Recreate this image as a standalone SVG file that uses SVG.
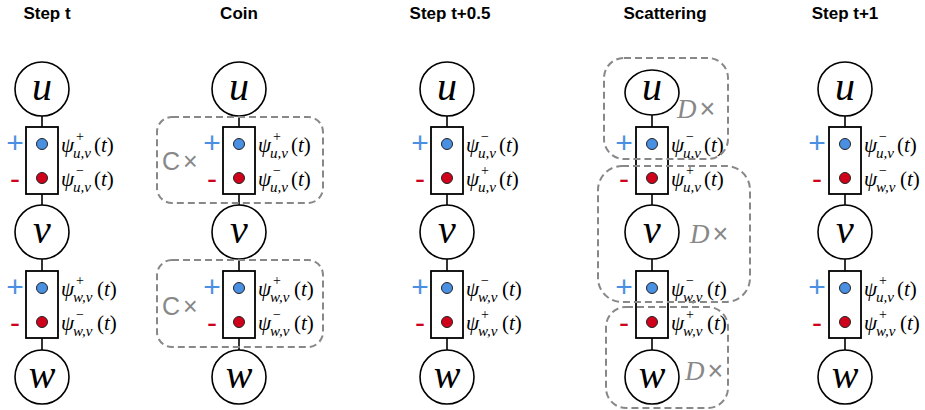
<svg xmlns="http://www.w3.org/2000/svg" width="925" height="410" viewBox="0 0 925 410">
<style>
.title{font-family:"Liberation Sans",Arial,sans-serif;font-weight:bold;font-size:17px;fill:#000;text-anchor:middle}
.node{fill:#fff;stroke:#000;stroke-width:1.6}
.nl{font-family:"Liberation Serif","Times New Roman",serif;font-style:italic;font-size:40px;fill:#000;text-anchor:middle}
.box{fill:#fff;stroke:#000;stroke-width:1.8}
.dp{fill:#4a90e2;stroke:#222;stroke-width:1}
.dm{fill:#d0021b;stroke:#222;stroke-width:1}
.plus{font-family:"Liberation Sans",Arial,sans-serif;font-size:30px;fill:#4a90e2;text-anchor:middle}
.minus{font-family:"Liberation Sans",Arial,sans-serif;font-size:30px;fill:#d0021b;text-anchor:middle}
.m{font-family:"Liberation Serif","Times New Roman",serif;font-style:italic;font-size:21px;fill:#000}
.up{font-style:normal}
.sup{font-style:normal;font-size:14px;fill:#000}
.sub{font-size:15px}
.edge{stroke:#000;stroke-width:1.6;fill:none}
.dash{fill:none;stroke:#888;stroke-width:2;stroke-dasharray:7 4}
.op{font-family:"Liberation Sans",Arial,sans-serif;font-size:25px;fill:#888}
.dop{font-family:"Liberation Serif","Times New Roman",serif;font-style:italic;font-size:27px;fill:#888}
.x{font-family:"Liberation Sans",Arial,sans-serif;font-style:normal;font-size:27px}
</style>

<g id="titles">
<text class="title" x="47" y="19">Step t</text>
<text class="title" x="239" y="19">Coin</text>
<text class="title" x="450" y="19">Step t+0.5</text>
<text class="title" x="665" y="19">Scattering</text>
<text class="title" x="845" y="19">Step t+1</text>
</g>

<g id="connectors">
<line class="edge" x1="42" y1="115" x2="42" y2="350"/>
<line class="edge" x1="239" y1="115" x2="239" y2="350"/>
<line class="edge" x1="447" y1="115" x2="447" y2="350"/>
<line class="edge" x1="652" y1="115" x2="652" y2="350"/>
<line class="edge" x1="845" y1="115" x2="845" y2="350"/>
</g>

<!-- Column 1: Step t -->
<g id="c1-u"><circle class="node" cx="42" cy="89" r="27"/><text class="nl" x="42" y="100">u</text></g>
<g id="c1-v"><circle class="node" cx="42" cy="232" r="27"/><text class="nl" x="42" y="243">v</text></g>
<g id="c1-w"><circle class="node" cx="42" cy="377" r="27"/><text class="nl" x="42" y="388">w</text></g>
<g id="c1-e1">
<rect class="box" x="26" y="127" width="32" height="67"/>
<circle class="dp" cx="42" cy="144" r="5.5"/><circle class="dm" cx="42" cy="178" r="5.5"/>
<text class="plus" x="15" y="152.5">+</text><text class="minus" x="15" y="189">-</text>
<text class="m" transform="translate(61,152)"><tspan x="0" y="0">ψ</tspan><tspan class="sup" x="15" y="-11">+</tspan><tspan class="sub" x="12" y="6">u,v</tspan><tspan class="up" x="33" y="0">(</tspan><tspan>t</tspan><tspan class="up">)</tspan></text>
<text class="m" transform="translate(61,186)"><tspan x="0" y="0">ψ</tspan><tspan class="sup" x="15" y="-11">−</tspan><tspan class="sub" x="12" y="6">u,v</tspan><tspan class="up" x="33" y="0">(</tspan><tspan>t</tspan><tspan class="up">)</tspan></text>
</g>
<g id="c1-e2">
<rect class="box" x="26" y="271" width="32" height="67"/>
<circle class="dp" cx="42" cy="288" r="5.5"/><circle class="dm" cx="42" cy="322" r="5.5"/>
<text class="plus" x="15" y="296.5">+</text><text class="minus" x="15" y="333">-</text>
<text class="m" transform="translate(61,296)"><tspan x="0" y="0">ψ</tspan><tspan class="sup" x="15" y="-11">+</tspan><tspan class="sub" x="12" y="6">w,v</tspan><tspan class="up" x="36" y="0">(</tspan><tspan>t</tspan><tspan class="up">)</tspan></text>
<text class="m" transform="translate(61,330)"><tspan x="0" y="0">ψ</tspan><tspan class="sup" x="15" y="-11">−</tspan><tspan class="sub" x="12" y="6">w,v</tspan><tspan class="up" x="36" y="0">(</tspan><tspan>t</tspan><tspan class="up">)</tspan></text>
</g>

<!-- Column 2: Coin -->
<g id="c2-u"><circle class="node" cx="239" cy="89" r="27"/><text class="nl" x="239" y="100">u</text></g>
<g id="c2-v"><circle class="node" cx="239" cy="232" r="27"/><text class="nl" x="239" y="243">v</text></g>
<g id="c2-w"><circle class="node" cx="239" cy="377" r="27"/><text class="nl" x="239" y="388">w</text></g>
<g id="c2-e1">
<rect class="box" x="223" y="127" width="32" height="67"/>
<circle class="dp" cx="239" cy="144" r="5.5"/><circle class="dm" cx="239" cy="178" r="5.5"/>
<text class="plus" x="212" y="152.5">+</text><text class="minus" x="212" y="189">-</text>
<text class="m" transform="translate(258,152)"><tspan x="0" y="0">ψ</tspan><tspan class="sup" x="15" y="-11">+</tspan><tspan class="sub" x="12" y="6">u,v</tspan><tspan class="up" x="33" y="0">(</tspan><tspan>t</tspan><tspan class="up">)</tspan></text>
<text class="m" transform="translate(258,186)"><tspan x="0" y="0">ψ</tspan><tspan class="sup" x="15" y="-11">−</tspan><tspan class="sub" x="12" y="6">u,v</tspan><tspan class="up" x="33" y="0">(</tspan><tspan>t</tspan><tspan class="up">)</tspan></text>
</g>
<g id="c2-e2">
<rect class="box" x="223" y="271" width="32" height="67"/>
<circle class="dp" cx="239" cy="288" r="5.5"/><circle class="dm" cx="239" cy="322" r="5.5"/>
<text class="plus" x="212" y="296.5">+</text><text class="minus" x="212" y="333">-</text>
<text class="m" transform="translate(258,296)"><tspan x="0" y="0">ψ</tspan><tspan class="sup" x="15" y="-11">+</tspan><tspan class="sub" x="12" y="6">w,v</tspan><tspan class="up" x="36" y="0">(</tspan><tspan>t</tspan><tspan class="up">)</tspan></text>
<text class="m" transform="translate(258,330)"><tspan x="0" y="0">ψ</tspan><tspan class="sup" x="15" y="-11">−</tspan><tspan class="sub" x="12" y="6">w,v</tspan><tspan class="up" x="36" y="0">(</tspan><tspan>t</tspan><tspan class="up">)</tspan></text>
</g>
<g id="c2-coin1"><rect class="dash" x="157" y="117" width="166" height="86" rx="15"/><text class="op" x="162" y="170">C<tspan dx="3">×</tspan></text></g>
<g id="c2-coin2"><rect class="dash" x="157" y="260" width="166" height="87" rx="15"/><text class="op" x="162" y="315">C<tspan dx="3">×</tspan></text></g>

<!-- Column 3: Step t+0.5 -->
<g id="c3-u"><circle class="node" cx="447" cy="89" r="27"/><text class="nl" x="447" y="100">u</text></g>
<g id="c3-v"><circle class="node" cx="447" cy="232" r="27"/><text class="nl" x="447" y="243">v</text></g>
<g id="c3-w"><circle class="node" cx="447" cy="377" r="27"/><text class="nl" x="447" y="388">w</text></g>
<g id="c3-e1">
<rect class="box" x="431" y="127" width="32" height="67"/>
<circle class="dp" cx="447" cy="144" r="5.5"/><circle class="dm" cx="447" cy="178" r="5.5"/>
<text class="plus" x="420" y="152.5">+</text><text class="minus" x="420" y="189">-</text>
<text class="m" transform="translate(466,152)"><tspan x="0" y="0">ψ</tspan><tspan class="sup" x="15" y="-11">−</tspan><tspan class="sub" x="12" y="6">u,v</tspan><tspan class="up" x="33" y="0">(</tspan><tspan>t</tspan><tspan class="up">)</tspan></text>
<text class="m" transform="translate(466,186)"><tspan x="0" y="0">ψ</tspan><tspan class="sup" x="15" y="-11">+</tspan><tspan class="sub" x="12" y="6">u,v</tspan><tspan class="up" x="33" y="0">(</tspan><tspan>t</tspan><tspan class="up">)</tspan></text>
</g>
<g id="c3-e2">
<rect class="box" x="431" y="271" width="32" height="67"/>
<circle class="dp" cx="447" cy="288" r="5.5"/><circle class="dm" cx="447" cy="322" r="5.5"/>
<text class="plus" x="420" y="296.5">+</text><text class="minus" x="420" y="333">-</text>
<text class="m" transform="translate(466,296)"><tspan x="0" y="0">ψ</tspan><tspan class="sup" x="15" y="-11">−</tspan><tspan class="sub" x="12" y="6">w,v</tspan><tspan class="up" x="36" y="0">(</tspan><tspan>t</tspan><tspan class="up">)</tspan></text>
<text class="m" transform="translate(466,330)"><tspan x="0" y="0">ψ</tspan><tspan class="sup" x="15" y="-11">+</tspan><tspan class="sub" x="12" y="6">w,v</tspan><tspan class="up" x="36" y="0">(</tspan><tspan>t</tspan><tspan class="up">)</tspan></text>
</g>

<!-- Column 4: Scattering -->
<g id="c4-u"><ellipse class="node" cx="652" cy="92.5" rx="27" ry="22.5"/><text class="nl" x="652" y="100">u</text></g>
<g id="c4-v"><circle class="node" cx="652" cy="232" r="27"/><text class="nl" x="652" y="243">v</text></g>
<g id="c4-w"><circle class="node" cx="652" cy="377" r="27"/><text class="nl" x="652" y="388">w</text></g>
<g id="c4-e1">
<rect class="box" x="636" y="127" width="32" height="67"/>
<circle class="dp" cx="652" cy="144" r="5.5"/><circle class="dm" cx="652" cy="178" r="5.5"/>
<text class="plus" x="624" y="152.5">+</text><text class="minus" x="624" y="189">-</text>
<text class="m" transform="translate(671,152)"><tspan x="0" y="0">ψ</tspan><tspan class="sup" x="15" y="-11">−</tspan><tspan class="sub" x="12" y="6">u,v</tspan><tspan class="up" x="33" y="0">(</tspan><tspan>t</tspan><tspan class="up">)</tspan></text>
<text class="m" transform="translate(671,186)"><tspan x="0" y="0">ψ</tspan><tspan class="sup" x="15" y="-11">+</tspan><tspan class="sub" x="12" y="6">u,v</tspan><tspan class="up" x="33" y="0">(</tspan><tspan>t</tspan><tspan class="up">)</tspan></text>
</g>
<g id="c4-e2">
<rect class="box" x="636" y="271" width="32" height="67"/>
<circle class="dp" cx="652" cy="288" r="5.5"/><circle class="dm" cx="652" cy="322" r="5.5"/>
<text class="plus" x="624" y="296.5">+</text><text class="minus" x="624" y="333">-</text>
<text class="m" transform="translate(671,296)"><tspan x="0" y="0">ψ</tspan><tspan class="sup" x="15" y="-11">−</tspan><tspan class="sub" x="12" y="6">w,v</tspan><tspan class="up" x="36" y="0">(</tspan><tspan>t</tspan><tspan class="up">)</tspan></text>
<text class="m" transform="translate(671,330)"><tspan x="0" y="0">ψ</tspan><tspan class="sup" x="15" y="-11">+</tspan><tspan class="sub" x="12" y="6">w,v</tspan><tspan class="up" x="36" y="0">(</tspan><tspan>t</tspan><tspan class="up">)</tspan></text>
</g>
<g id="c4-scat-u"><rect class="dash" x="604" y="58" width="124" height="101" rx="20"/><text class="dop" x="677" y="118">D<tspan class="x" dx="3">×</tspan></text></g>
<g id="c4-scat-v"><rect class="dash" x="598" y="166" width="152" height="136" rx="24"/><text class="dop" x="690" y="243">D<tspan class="x" dx="3">×</tspan></text></g>
<g id="c4-scat-w"><rect class="dash" x="606" y="307" width="122" height="101" rx="20"/><text class="dop" x="685" y="380">D<tspan class="x" dx="3">×</tspan></text></g>

<!-- Column 5: Step t+1 -->
<g id="c5-u"><circle class="node" cx="845" cy="89" r="27"/><text class="nl" x="845" y="100">u</text></g>
<g id="c5-v"><circle class="node" cx="845" cy="232" r="27"/><text class="nl" x="845" y="243">v</text></g>
<g id="c5-w"><circle class="node" cx="845" cy="377" r="27"/><text class="nl" x="845" y="388">w</text></g>
<g id="c5-e1">
<rect class="box" x="829" y="127" width="32" height="67"/>
<circle class="dp" cx="845" cy="144" r="5.5"/><circle class="dm" cx="845" cy="178" r="5.5"/>
<text class="plus" x="817" y="152.5">+</text><text class="minus" x="817" y="189">-</text>
<text class="m" transform="translate(864,152)"><tspan x="0" y="0">ψ</tspan><tspan class="sup" x="15" y="-11">−</tspan><tspan class="sub" x="12" y="6">u,v</tspan><tspan class="up" x="33" y="0">(</tspan><tspan>t</tspan><tspan class="up">)</tspan></text>
<text class="m" transform="translate(864,186)"><tspan x="0" y="0">ψ</tspan><tspan class="sup" x="15" y="-11">−</tspan><tspan class="sub" x="12" y="6">w,v</tspan><tspan class="up" x="36" y="0">(</tspan><tspan>t</tspan><tspan class="up">)</tspan></text>
</g>
<g id="c5-e2">
<rect class="box" x="829" y="271" width="32" height="67"/>
<circle class="dp" cx="845" cy="288" r="5.5"/><circle class="dm" cx="845" cy="322" r="5.5"/>
<text class="plus" x="817" y="296.5">+</text><text class="minus" x="817" y="333">-</text>
<text class="m" transform="translate(864,296)"><tspan x="0" y="0">ψ</tspan><tspan class="sup" x="15" y="-11">+</tspan><tspan class="sub" x="12" y="6">u,v</tspan><tspan class="up" x="33" y="0">(</tspan><tspan>t</tspan><tspan class="up">)</tspan></text>
<text class="m" transform="translate(864,330)"><tspan x="0" y="0">ψ</tspan><tspan class="sup" x="15" y="-11">+</tspan><tspan class="sub" x="12" y="6">w,v</tspan><tspan class="up" x="36" y="0">(</tspan><tspan>t</tspan><tspan class="up">)</tspan></text>
</g>
</svg>
